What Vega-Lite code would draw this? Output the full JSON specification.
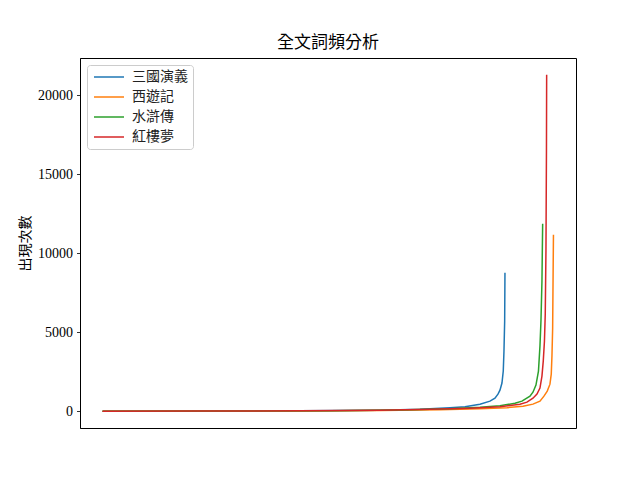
{
  "$schema": "https://vega.github.io/schema/vega-lite/v6.json",
  "autosize": {"type": "none"},
  "width": 496,
  "height": 370,
  "padding": {"left": 80, "top": 58, "right": 64, "bottom": 52},
  "background": "white",
  "title": {
    "text": "全文詞頻分析",
    "font": "Liberation Serif, Noto Sans CJK TC",
    "fontSize": 17,
    "fontWeight": "normal",
    "color": "black",
    "anchor": "middle",
    "offset": 6
  },
  "config": {
    "view": {"stroke": "black", "strokeWidth": 1},
    "font": "Liberation Serif, Noto Sans CJK TC"
  },
  "data": {
    "values": [
      {"book": "三國演義", "rank": 0, "count": 1},
      {"book": "三國演義", "rank": 975, "count": 5},
      {"book": "三國演義", "rank": 1975, "count": 20},
      {"book": "三國演義", "rank": 2775, "count": 63},
      {"book": "三國演義", "rank": 3175, "count": 127},
      {"book": "三國演義", "rank": 3475, "count": 220},
      {"book": "三國演義", "rank": 3625, "count": 285},
      {"book": "三國演義", "rank": 3775, "count": 445},
      {"book": "三國演義", "rank": 3875, "count": 635},
      {"book": "三國演義", "rank": 3925, "count": 825},
      {"book": "三國演義", "rank": 3955, "count": 1080},
      {"book": "三國演義", "rank": 3975, "count": 1330},
      {"book": "三國演義", "rank": 3995, "count": 1780},
      {"book": "三國演義", "rank": 4008, "count": 2540},
      {"book": "三國演義", "rank": 4015, "count": 3800},
      {"book": "三國演義", "rank": 4022, "count": 5700},
      {"book": "三國演義", "rank": 4025, "count": 8760},
      {"book": "西遊記", "rank": 0, "count": 1},
      {"book": "西遊記", "rank": 975, "count": 4},
      {"book": "西遊記", "rank": 1975, "count": 13},
      {"book": "西遊記", "rank": 2775, "count": 44},
      {"book": "西遊記", "rank": 3375, "count": 95},
      {"book": "西遊記", "rank": 3775, "count": 160},
      {"book": "西遊記", "rank": 4045, "count": 220},
      {"book": "西遊記", "rank": 4205, "count": 317},
      {"book": "西遊記", "rank": 4305, "count": 445},
      {"book": "西遊記", "rank": 4375, "count": 635},
      {"book": "西遊記", "rank": 4415, "count": 950},
      {"book": "西遊記", "rank": 4448, "count": 1270},
      {"book": "西遊記", "rank": 4475, "count": 1710},
      {"book": "西遊記", "rank": 4488, "count": 2350},
      {"book": "西遊記", "rank": 4495, "count": 3490},
      {"book": "西遊記", "rank": 4502, "count": 5270},
      {"book": "西遊記", "rank": 4505, "count": 7600},
      {"book": "西遊記", "rank": 4510, "count": 11170},
      {"book": "水滸傳", "rank": 0, "count": 1},
      {"book": "水滸傳", "rank": 1475, "count": 8},
      {"book": "水滸傳", "rank": 2275, "count": 30},
      {"book": "水滸傳", "rank": 2975, "count": 80},
      {"book": "水滸傳", "rank": 3475, "count": 160},
      {"book": "水滸傳", "rank": 3775, "count": 254},
      {"book": "水滸傳", "rank": 3975, "count": 350},
      {"book": "水滸傳", "rank": 4125, "count": 500},
      {"book": "水滸傳", "rank": 4195, "count": 635},
      {"book": "水滸傳", "rank": 4275, "count": 950},
      {"book": "水滸傳", "rank": 4305, "count": 1200},
      {"book": "水滸傳", "rank": 4335, "count": 1650},
      {"book": "水滸傳", "rank": 4360, "count": 2540},
      {"book": "水滸傳", "rank": 4375, "count": 4120},
      {"book": "水滸傳", "rank": 4385, "count": 5710},
      {"book": "水滸傳", "rank": 4395, "count": 8250},
      {"book": "水滸傳", "rank": 4402, "count": 11870},
      {"book": "紅樓夢", "rank": 0, "count": 1},
      {"book": "紅樓夢", "rank": 975, "count": 5},
      {"book": "紅樓夢", "rank": 1975, "count": 20},
      {"book": "紅樓夢", "rank": 2775, "count": 63},
      {"book": "紅樓夢", "rank": 3275, "count": 115},
      {"book": "紅樓夢", "rank": 3675, "count": 190},
      {"book": "紅樓夢", "rank": 3975, "count": 285},
      {"book": "紅樓夢", "rank": 4175, "count": 445},
      {"book": "紅樓夢", "rank": 4245, "count": 570},
      {"book": "紅樓夢", "rank": 4305, "count": 825},
      {"book": "紅樓夢", "rank": 4345, "count": 1080},
      {"book": "紅樓夢", "rank": 4375, "count": 1460},
      {"book": "紅樓夢", "rank": 4395, "count": 2220},
      {"book": "紅樓夢", "rank": 4408, "count": 3170},
      {"book": "紅樓夢", "rank": 4420, "count": 4440},
      {"book": "紅樓夢", "rank": 4428, "count": 6150},
      {"book": "紅樓夢", "rank": 4435, "count": 10150},
      {"book": "紅樓夢", "rank": 4440, "count": 16500},
      {"book": "紅樓夢", "rank": 4442, "count": 21300}
    ]
  },
  "mark": {"type": "line", "strokeWidth": 1.5, "clip": true},
  "encoding": {
    "x": {
      "field": "rank",
      "type": "quantitative",
      "scale": {"domain": [-225.5, 4735.5], "nice": false, "zero": false},
      "axis": null
    },
    "y": {
      "field": "count",
      "type": "quantitative",
      "scale": {"domain": [-1065, 22365], "nice": false, "zero": false},
      "axis": {
        "title": "出現次數",
        "titleFont": "Liberation Serif, Noto Sans CJK TC",
        "titleFontSize": 14,
        "titleFontWeight": "normal",
        "titleColor": "black",
        "titlePadding": 5,
        "values": [0, 5000, 10000, 15000, 20000],
        "format": "d",
        "grid": false,
        "labelFont": "Liberation Serif",
        "labelFontSize": 14,
        "labelColor": "black",
        "labelPadding": 4,
        "tickSize": 3.5,
        "tickColor": "black",
        "tickWidth": 0.8,
        "domainColor": "black",
        "domainWidth": 0.8
      }
    },
    "color": {
      "field": "book",
      "type": "nominal",
      "sort": null,
      "scale": {
        "domain": ["三國演義", "西遊記", "水滸傳", "紅樓夢"],
        "range": ["#1f77b4", "#ff7f0e", "#2ca02c", "#d62728"]
      },
      "legend": {
        "title": null,
        "orient": "top-left",
        "offset": 7,
        "padding": 5,
        "rowPadding": 6,
        "symbolType": "M-1,0H5",
        "symbolSize": 100,
        "symbolStrokeWidth": 1.5,
        "labelOffset": 26,
        "labelFont": "Liberation Serif, Noto Sans CJK TC",
        "labelFontSize": 14,
        "labelColor": "#222222",
        "strokeColor": "#cccccc",
        "fillColor": "white",
        "cornerRadius": 3
      }
    }
  }
}
